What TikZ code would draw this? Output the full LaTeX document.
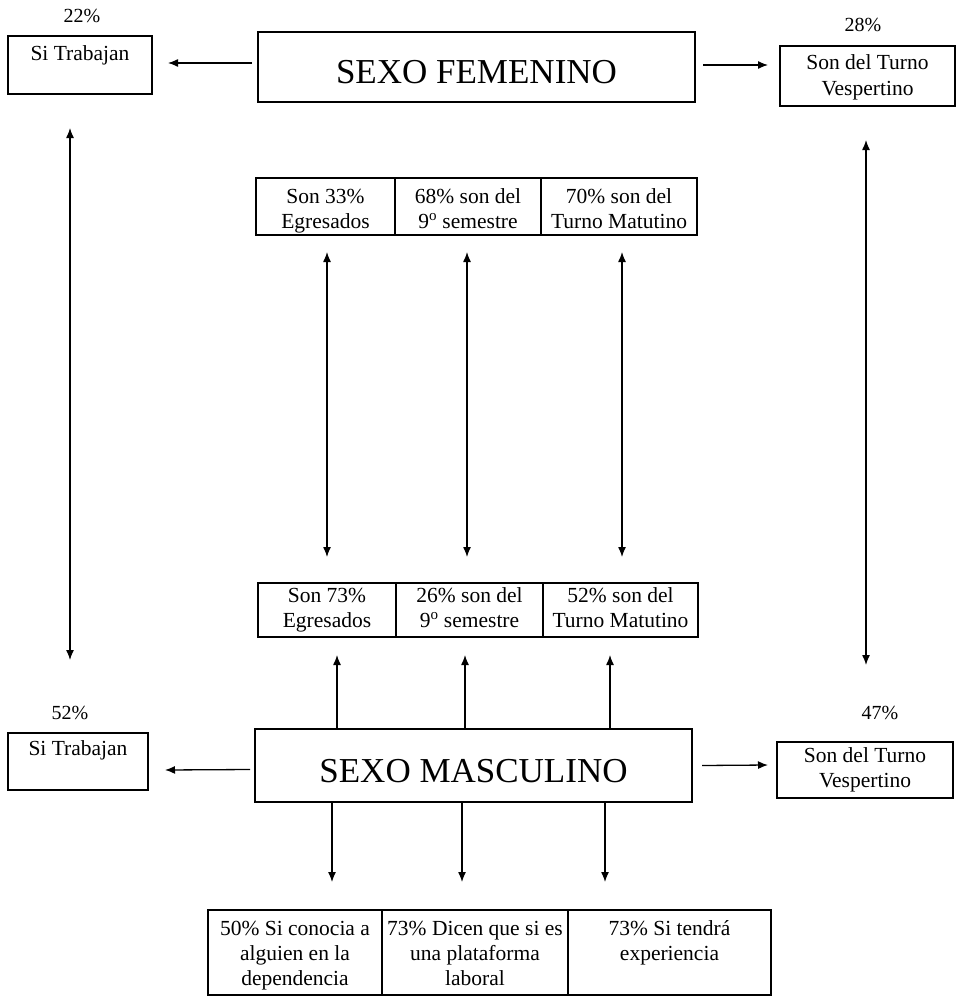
\documentclass[tikz,border=0pt]{standalone}
\usepackage{fontspec}
\setmainfont{Liberation Serif}
\usetikzlibrary{arrows.meta,calc}
\newcommand{\upS}[1]{\rule{0pt}{#1pt}}
\newcommand{\dnS}{\rule[-5pt]{0pt}{5pt}}
\begin{document}
\begin{tikzpicture}[x=1pt,y=-1pt,
  box/.style={draw, line width=1.3pt, inner sep=0pt, outer sep=0pt, align=center, font=\fontsize{21.5}{25}\selectfont},
  big/.style={draw, line width=1.3pt, inner sep=0pt, outer sep=0pt, font=\fontsize{35}{40}\selectfont, text height=33pt, text depth=0pt},
  pct/.style={inner sep=0pt, font=\fontsize{20}{24}\selectfont},
  arr/.style={line width=1.3pt, -{Latex[length=10pt,width=8pt]}},
  dbl/.style={line width=1.3pt, {Latex[length=10pt,width=8pt]}-{Latex[length=10pt,width=8pt]}}]
\useasboundingbox (0,0) rectangle (958,998);

% top
\node[box, minimum width=144pt, minimum height=58pt] (tl) at (80,65) {\rule[-25pt]{0pt}{40pt}Si Trabajan};
\node[pct] (p1) at (82,16) {22\%};
\node[big, minimum width=437pt, minimum height=70pt] (fem) at (476.5,67) {SEXO FEMENINO};
\node[box, minimum width=175pt, minimum height=60pt] (tr) at (867.5,76) {\upS{18}Son del Turno\\Vespertino\dnS};
\node[pct] (p2) at (863,25) {28\%};

% top middle row
\node[box, minimum width=139pt, minimum height=57pt] (f1) at (325.5,206.5) {\upS{23}Son 33\%\\Egresados\dnS};
\node[box, minimum width=146pt, minimum height=57pt] (f2) at (468,206.5) {\upS{23}68\% son del\\9\textsuperscript{o} semestre\dnS};
\node[box, minimum width=156pt, minimum height=57pt] (f3) at (619,206.5) {\upS{23}70\% son del\\Turno Matutino\dnS};

% bottom middle row
\node[box, minimum width=138pt, minimum height=54pt] (m1) at (327,610) {\upS{15}Son 73\%\\Egresados\dnS};
\node[box, minimum width=147pt, minimum height=54pt] (m2) at (469.5,610) {\upS{15}26\% son del\\9\textsuperscript{o} semestre\dnS};
\node[box, minimum width=155pt, minimum height=54pt] (m3) at (620.5,610) {\upS{15}52\% son del\\Turno Matutino\dnS};

% masculino level
\node[box, minimum width=140pt, minimum height=57pt] (bl) at (78,761.5) {\rule[-27pt]{0pt}{42pt}Si Trabajan};
\node[pct] (p3) at (70,713) {52\%};
\node[big, minimum width=437pt, minimum height=73pt] (masc) at (473.5,765.5) {SEXO MASCULINO};
\node[box, minimum width=176pt, minimum height=56pt] (br) at (865,770) {\upS{15}Son del Turno\\Vespertino\dnS};
\node[pct] (p4) at (880,713) {47\%};

% bottom row
\node[box, minimum width=174pt, minimum height=85pt] (b1) at (295,952.5) {\upS{20}50\% Si conocia a\\alguien en la\\dependencia\dnS};
\node[box, minimum width=186pt, minimum height=85pt] (b2) at (475,952.5) {\upS{20}73\% Dicen que si es\\una plataforma\\laboral\dnS};
\node[box, minimum width=203pt, minimum height=85pt] (b3) at (669.5,952.5) {\upS{20}73\% Si tendrá\\experiencia\\\dnS};

% horizontal arrows
\draw[arr] ([shift={(-6,-4)}]fem.west) -- ([shift={(16,-2)}]tl.east);
\draw[arr] ([shift={(8,-2)}]fem.east) -- ([shift={(-12,-11)}]tr.west);
\draw[arr] ([shift={(-5,4)}]masc.west) -- ([shift={(17,8.5)}]bl.east);
\draw[arr] ([shift={(10,0)}]masc.east) -- ([shift={(-9,-5)}]br.west);

% long vertical double arrows
\draw[dbl] ([shift={(-10,34)}]tl.south) -- ([shift={(-8,-73)}]bl.north);
\draw[dbl] ([shift={(-1.5,34)}]tr.south) -- ([shift={(1,-77)}]br.north);

% middle double arrows
\draw[dbl] ($(f1.south)+(1.5,17)$) -- ($(f1.south|-m1.north)+(1.5,-26)$);
\draw[dbl] ($(f2.south)+(-1,17)$) -- ($(f2.south|-m2.north)+(-1,-26)$);
\draw[dbl] ($(f3.south)+(3,17)$) -- ($(f3.south|-m3.north)+(3,-26)$);

% masculino up arrows
\draw[arr] ($(m1.south|-masc.north)+(10,0)$) -- ($(m1.south)+(10,18)$);
\draw[arr] ($(m2.south|-masc.north)+(-4.5,0)$) -- ($(m2.south)+(-4.5,18)$);
\draw[arr] ($(m3.south|-masc.north)+(-10.5,0)$) -- ($(m3.south)+(-10.5,18)$);

% masculino down arrows
\draw[arr] ($(b1.north|-masc.south)+(37,0)$) -- ($(b1.north)+(37,-28)$);
\draw[arr] ($(b2.north|-masc.south)+(-13,0)$) -- ($(b2.north)+(-13,-28)$);
\draw[arr] ($(b3.north|-masc.south)+(-64.5,0)$) -- ($(b3.north)+(-64.5,-28)$);
\end{tikzpicture}
\end{document}
